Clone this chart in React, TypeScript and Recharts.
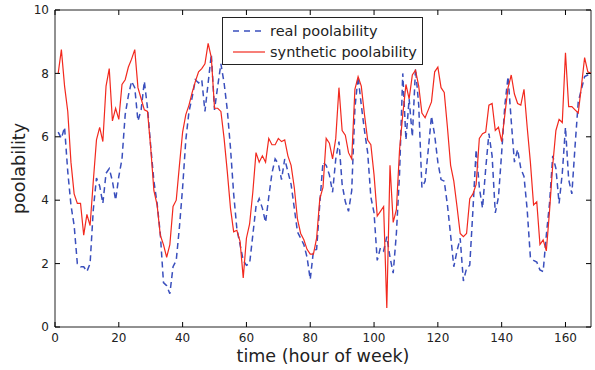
import React from 'react';
import { LineChart, Line, XAxis, YAxis, Legend, ReferenceArea } from 'recharts';

// hour of week 1..168
const realPoolability = [
  6.15, 5.95, 6.3, 4.9, 3.85, 3.2, 2.0, 1.9, 1.9, 1.75, 2.0, 3.7,
  4.7, 4.45, 3.9, 4.85, 5.0, 4.6, 4.0, 4.75, 5.3, 6.7, 7.3, 7.75,
  7.55, 6.5, 6.85, 7.75, 6.9, 5.7, 4.6, 3.9, 2.95, 1.4, 1.3, 1.05,
  1.9, 2.1, 3.15, 4.4, 5.9, 6.8, 7.25, 7.8, 7.7, 7.8, 6.8, 7.7,
  8.6, 6.85, 7.6, 8.3, 7.7, 6.85, 5.65, 4.2, 3.1, 2.6, 2.1, 1.95,
  2.0, 2.9, 3.8, 4.05, 3.75, 3.3, 4.1, 4.85, 5.3, 5.15, 4.65, 5.3,
  4.9, 4.5, 3.75, 3.0, 2.8, 2.6, 2.2, 1.5, 2.4, 2.45, 3.9, 5.2,
  5.1, 4.8, 4.25, 5.3, 5.85, 4.5, 3.95, 3.65, 4.3, 6.9, 7.9, 7.0,
  6.2, 5.5, 4.1, 3.6, 2.1, 2.5, 2.4, 2.85, 2.2, 1.7, 2.95, 4.85,
  8.0, 5.9, 7.2, 6.0, 8.15, 7.0, 4.4, 4.6, 5.6, 6.65, 6.05, 5.2,
  4.65, 4.6, 3.85, 2.9, 1.9, 2.4, 2.8, 1.45, 1.85, 1.95, 3.7, 5.6,
  4.4, 3.75, 5.0, 6.1, 5.4, 3.6, 4.1, 5.5, 7.0, 7.9, 6.5, 5.2,
  5.6, 5.0, 4.75, 3.7, 2.2, 2.1, 2.05, 1.8, 1.75, 2.9, 3.9, 5.4,
  5.0, 3.9, 4.85, 6.3, 4.65, 4.2, 5.7, 7.1, 7.5, 7.9, 7.95, 8.0,
];

const syntheticPoolability = [
  8.0, 8.75, 7.6, 6.8, 5.2, 4.2, 3.9, 3.9, 2.9, 3.55, 3.2, 4.6,
  5.9, 6.3, 5.85, 7.6, 8.15, 6.5, 6.9, 6.55, 7.65, 7.8, 8.2, 8.45,
  8.75, 7.55, 7.2, 6.85, 6.8, 5.65, 4.3, 3.85, 2.9, 2.6, 2.2, 2.6,
  3.8, 4.0, 5.1, 6.15, 6.7, 7.0, 7.4, 7.75, 8.05, 8.15, 8.3, 8.95,
  8.5, 6.9, 6.9, 6.8, 5.95, 4.9, 3.75, 3.0, 3.05, 2.7, 1.55, 2.8,
  3.25, 4.25, 5.5, 5.2, 5.4, 5.2, 5.95, 5.75, 5.75, 5.95, 5.85, 5.9,
  5.4, 5.1, 4.4, 3.4, 2.95, 2.75, 2.45, 2.3, 2.3, 2.8, 4.05, 4.4,
  5.95, 5.8, 5.3, 5.95, 7.55, 6.2, 6.05, 5.5, 5.3, 7.5, 7.9, 7.6,
  6.7, 5.9, 5.75, 4.8, 3.5, 3.65, 3.8, 0.6, 5.1, 3.3, 3.7, 5.6,
  6.7, 7.65, 7.2, 7.95, 8.1, 7.6, 6.75, 6.6, 6.85, 7.1, 8.05, 8.2,
  7.55, 7.4, 6.3, 5.1, 4.6, 3.8, 2.95, 2.85, 2.95, 4.05, 4.2, 4.5,
  5.95, 6.1, 6.15, 7.0, 7.05, 6.2, 6.3, 5.85, 6.7, 7.55, 7.95, 7.35,
  7.05, 7.0, 7.5, 6.3, 5.2, 3.85, 3.95, 2.6, 2.75, 2.4, 3.65, 5.1,
  6.2, 6.55, 6.45, 8.65, 6.95, 6.95, 6.85, 6.75, 7.6, 8.5, 8.05, 8.0,
];

const xTicks = [0, 20, 40, 60, 80, 100, 120, 140, 160];
const yTicks = [0, 2, 4, 6, 8, 10];
const seriesNames = ['real poolability', 'synthetic poolability'];
const xLabel = 'time (hour of week)';
const yLabel = 'poolability';

const data = realPoolability.map((v, i) => ({
  hour: i + 1,
  real: v,
  synthetic: syntheticPoolability[i],
}));

const W = 595;
const H = 370;
const MARGIN = { top: 10, right: 4, bottom: 0, left: 0 };
const Y_AXIS_W = 55;
const X_AXIS_H = 43;
const PLOT_W = W - MARGIN.left - MARGIN.right - Y_AXIS_W;
const PLOT_H = H - MARGIN.top - MARGIN.bottom - X_AXIS_H;
const FONT = '"DejaVu Sans", sans-serif';
const BLUE = '#3a4fbd';
const RED = '#f2291e';

function XTick(props: any) {
  const { x, y, payload } = props;
  return (
    <g>
      <line x1={x} y1={y} x2={x} y2={y - 5} stroke="#000" strokeWidth={1} />
      <line x1={x} y1={y - PLOT_H} x2={x} y2={y - PLOT_H + 5} stroke="#000" strokeWidth={1} />
      <text x={x} y={y + 15} textAnchor="middle" fontSize={12} fill="#222" fontFamily={FONT}>
        {payload.value}
      </text>
    </g>
  );
}

function YTick(props: any) {
  const { x, y, payload } = props;
  return (
    <g>
      <line x1={x} y1={y} x2={x + 5} y2={y} stroke="#000" strokeWidth={1} />
      <line x1={x + PLOT_W} y1={y} x2={x + PLOT_W - 5} y2={y} stroke="#000" strokeWidth={1} />
      <text x={x - 6} y={y} dy="0.35em" textAnchor="end" fontSize={12} fill="#222" fontFamily={FONT}>
        {payload.value}
      </text>
    </g>
  );
}

function renderLegend(props: any) {
  const { payload } = props;
  return (
    <div
      style={{
        position: 'relative',
        boxSizing: 'border-box',
        width: 201,
        height: 48,
        border: '1px solid #222',
        background: '#fff',
        fontFamily: FONT,
        fontSize: 14.5,
        color: '#222',
      }}
    >
      {(payload || []).map((entry: any, i: number) => (
        <div
          key={i}
          style={{ position: 'absolute', left: 0, top: 3 + i * 21, height: 20, width: 200 }}
        >
          <svg width={40} height={20} style={{ position: 'absolute', left: 6, top: 0 }}>
            <line
              x1={4}
              y1={10}
              x2={36}
              y2={10}
              stroke={entry.color}
              strokeWidth={entry.dataKey === 'real' ? 1.5 : 1.2}
              strokeDasharray={entry.dataKey === 'real' ? '6 5' : undefined}
            />
          </svg>
          <span style={{ position: 'absolute', left: 47, top: 0, lineHeight: '20px', whiteSpace: 'nowrap' }}>
            {entry.value}
          </span>
        </div>
      ))}
    </div>
  );
}

export default function App() {
  return (
    <div style={{ position: 'absolute', left: 0, top: 0, width: W, height: H, background: '#fff' }}>
      <LineChart width={W} height={H} data={data} margin={MARGIN}>
        <XAxis
          dataKey="hour"
          type="number"
          domain={[0, 168]}
          ticks={xTicks}
          interval={0}
          tickSize={0}
          tickMargin={0}
          tickLine={false}
          axisLine={false}
          tick={<XTick />}
          height={X_AXIS_H}
          label={{
            content: () => (
              <text
                x={Y_AXIS_W + PLOT_W / 2}
                y={356}
                textAnchor="middle"
                dominantBaseline="central"
                fontSize={17.5}
                fill="#222"
                fontFamily={FONT}
              >
                {xLabel}
              </text>
            ),
          }}
        />
        <YAxis
          type="number"
          domain={[0, 10]}
          ticks={yTicks}
          interval={0}
          width={Y_AXIS_W}
          tickSize={0}
          tickMargin={0}
          tickLine={false}
          axisLine={false}
          tick={<YTick />}
          label={{
            content: () => (
              <text
                x={19}
                y={MARGIN.top + PLOT_H / 2}
                transform={`rotate(-90 19 ${MARGIN.top + PLOT_H / 2})`}
                textAnchor="middle"
                dominantBaseline="central"
                fontSize={17.5}
                fill="#222"
                fontFamily={FONT}
              >
                {yLabel}
              </text>
            ),
          }}
        />
        <ReferenceArea x1={0} x2={168} y1={0} y2={10} fill="none" stroke="#222" strokeWidth={1} />
        <Line
          type="linear"
          dataKey="real"
          name={seriesNames[0]}
          stroke={BLUE}
          strokeWidth={1.5}
          strokeDasharray="6 4"
          dot={false}
          activeDot={false}
          isAnimationActive={false}
        />
        <Line
          type="linear"
          dataKey="synthetic"
          name={seriesNames[1]}
          stroke={RED}
          strokeWidth={1.2}
          dot={false}
          activeDot={false}
          isAnimationActive={false}
        />
        <Legend
          layout="vertical"
          align="center"
          verticalAlign="middle"
          wrapperStyle={{ position: 'absolute', left: 222, top: 17, width: 201, height: 48 }}
          content={renderLegend}
        />
      </LineChart>
    </div>
  );
}
